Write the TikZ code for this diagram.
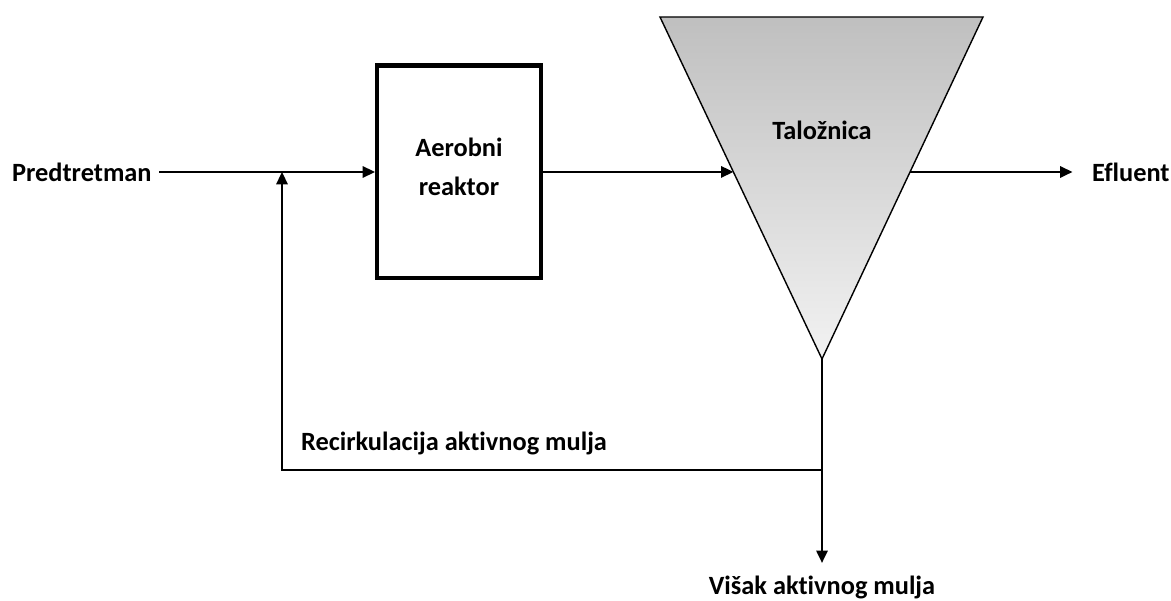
\documentclass[tikz,border=0pt]{standalone}
\usepackage{fontspec}
\setmainfont[Ligatures=NoCommon]{Carlito}
\usetikzlibrary{arrows.meta,calc}
\tikzset{
	lbl/.style={font=\fontsize{15}{22}\selectfont\bfseries, inner sep=1pt},
	flow/.style={line width=1pt, -{Triangle[length=7pt,width=6.5pt]}},
}

\begin{document}
\begin{tikzpicture}[x=0.02cm,y=-0.02cm]
	\useasboundingbox (0,0) rectangle (1171,601);
	\node[lbl, anchor=west] (pred) at (10,172) {Predtretman};
	\node[draw, line width=2.3pt, minimum width=3.28cm, minimum height=4.26cm, lbl, align=center] (reaktor) at (459,172) {Aerobni\\reaktor\\[-16pt]};
	\coordinate (tl) at (660,17);
	\coordinate (tr) at (983,17);
	\coordinate (tip) at (822,359);
	\draw[line width=0.8pt, top color=gray!50, bottom color=gray!10] (tl) -- (tr) -- (tip) -- cycle;
	\node[lbl] (taloz) at (822,130) {Taložnica};
	\coordinate (ulaz) at ($(tl)!0.453!(tip)$);
	\coordinate (izlaz) at ($(tr)!0.453!(tip)$);
	\node[lbl, anchor=west] (efl) at (1090,172) {Efluent};
	\node[lbl] (visak) at (822,587) {Višak aktivnog mulja};
	\node[lbl] (recirk) at (454,443) {Recirkulacija aktivnog mulja};
	\coordinate (spoj) at (282,172);
	\coordinate (c1) at (282,470);
	\coordinate (c2) at (822,470);
	\draw[flow, shorten <=3pt] (pred.east) -- (reaktor.west);
	\draw[flow] (reaktor.east) -- (ulaz);
	\draw[flow, shorten >=10pt] (izlaz) -- (efl.west);
	\draw[flow, shorten >=6pt] (tip) -- (visak.north);
	\draw[flow] (c2) -- (c1) -- (spoj);
\end{tikzpicture}
\end{document}
